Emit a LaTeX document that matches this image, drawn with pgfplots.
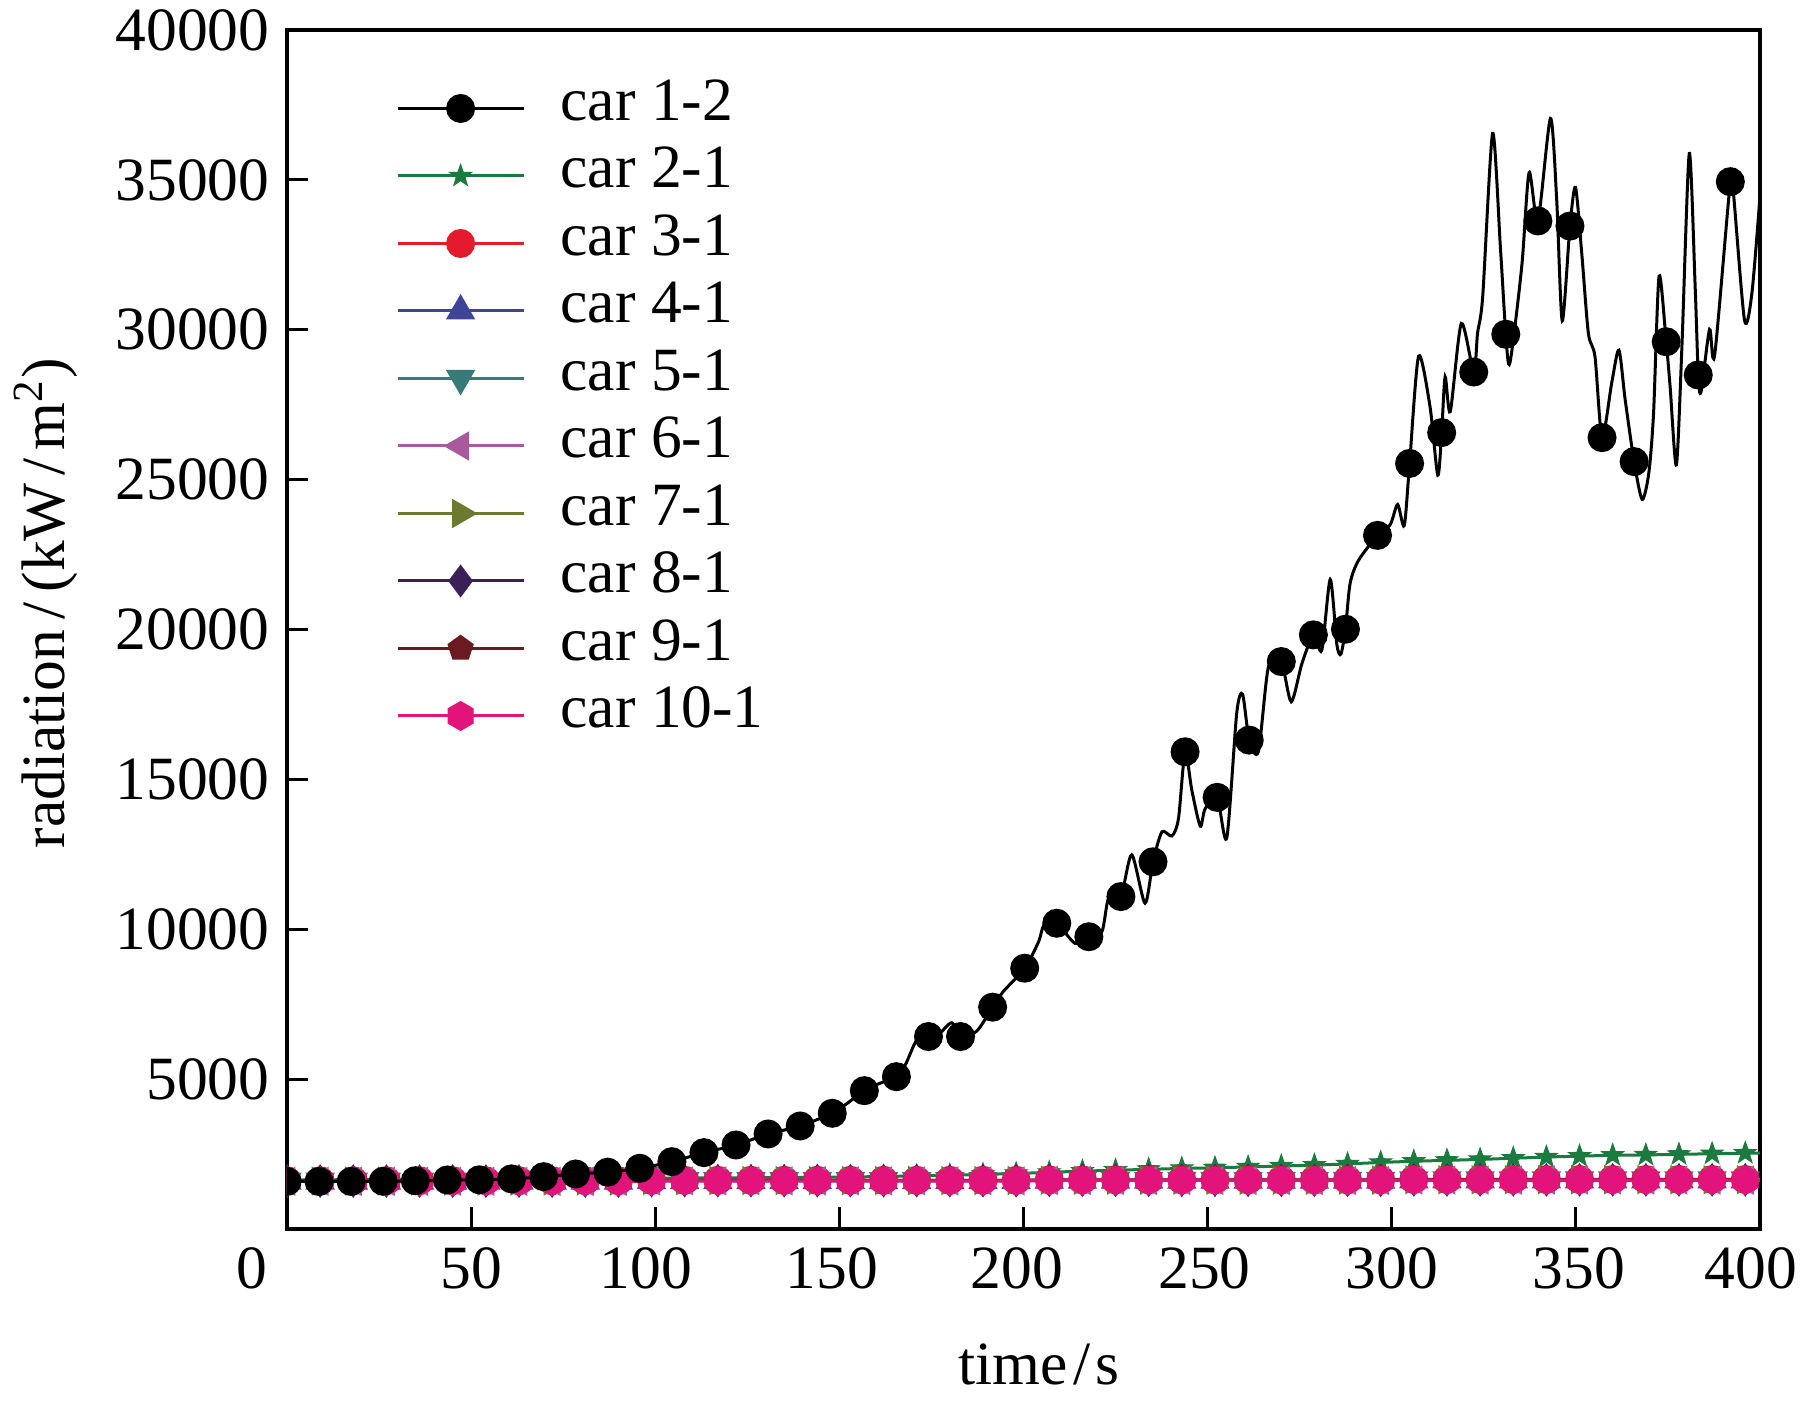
\documentclass[border=0pt]{standalone}
\usepackage{fontspec}
\setmainfont{Liberation Serif}
\usepackage{pgfplots}
\pgfplotsset{compat=1.18}
\usepackage{pgfplotstable}
\definecolor{c2}{HTML}{1B7A3E}
\definecolor{c3}{HTML}{E31B2C}
\definecolor{c4}{HTML}{3F4596}
\definecolor{c5}{HTML}{367A7A}
\definecolor{c6}{HTML}{A95A9E}
\definecolor{c7}{HTML}{6C7A2F}
\definecolor{c8}{HTML}{3A2057}
\definecolor{c9}{HTML}{6A1A20}
\definecolor{c10}{HTML}{E2137A}
\pgfdeclareplotmark{hexa*}{%
  \pgfpathmoveto{\pgfpointpolar{90}{\pgfplotmarksize}}%
  \pgfpathlineto{\pgfpointpolar{150}{\pgfplotmarksize}}%
  \pgfpathlineto{\pgfpointpolar{210}{\pgfplotmarksize}}%
  \pgfpathlineto{\pgfpointpolar{270}{\pgfplotmarksize}}%
  \pgfpathlineto{\pgfpointpolar{330}{\pgfplotmarksize}}%
  \pgfpathlineto{\pgfpointpolar{30}{\pgfplotmarksize}}%
  \pgfpathclose
  \pgfusepathqfillstroke}
\pgfdeclareplotmark{fstar}{%
  \pgfpathmoveto{\pgfpointpolar{90}{\pgfplotmarksize}}%
  \pgfpathlineto{\pgfpointpolar{126}{0.4\pgfplotmarksize}}%
  \pgfpathlineto{\pgfpointpolar{162}{\pgfplotmarksize}}%
  \pgfpathlineto{\pgfpointpolar{198}{0.4\pgfplotmarksize}}%
  \pgfpathlineto{\pgfpointpolar{234}{\pgfplotmarksize}}%
  \pgfpathlineto{\pgfpointpolar{270}{0.4\pgfplotmarksize}}%
  \pgfpathlineto{\pgfpointpolar{306}{\pgfplotmarksize}}%
  \pgfpathlineto{\pgfpointpolar{342}{0.4\pgfplotmarksize}}%
  \pgfpathlineto{\pgfpointpolar{18}{\pgfplotmarksize}}%
  \pgfpathlineto{\pgfpointpolar{54}{0.4\pgfplotmarksize}}%
  \pgfpathclose
  \pgfusepathqfillstroke}
\newcommand{\fs}{\fontsize{12.3pt}{14pt}\selectfont}
\pgfplotstableread{
t   c2   c3   c4   c5   c6   c7   c8   c9   c10
0   1640 1610 1600 1595 1590 1600 1595 1605 1590
9   1640 1610 1600 1595 1590 1600 1595 1605 1590
18  1645 1610 1600 1595 1590 1600 1595 1605 1590
27  1650 1610 1600 1595 1590 1600 1595 1605 1590
36  1650 1610 1600 1595 1590 1600 1595 1605 1590
45  1655 1610 1600 1595 1590 1600 1595 1605 1590
54  1660 1610 1600 1595 1590 1600 1595 1605 1590
63  1665 1610 1600 1595 1590 1600 1595 1605 1590
72  1670 1610 1600 1595 1590 1600 1595 1605 1590
81  1675 1610 1600 1595 1590 1600 1595 1605 1590
90  1680 1610 1600 1595 1590 1600 1595 1605 1590
99  1690 1625 1615 1610 1605 1615 1610 1620 1605
108 1700 1625 1615 1610 1605 1615 1610 1620 1605
117 1705 1625 1615 1610 1605 1615 1610 1620 1605
126 1710 1625 1615 1610 1605 1615 1610 1620 1605
135 1715 1625 1615 1610 1605 1615 1610 1620 1605
144 1725 1625 1615 1610 1605 1615 1610 1620 1605
153 1735 1625 1615 1610 1605 1615 1610 1620 1605
162 1750 1625 1615 1610 1605 1615 1610 1620 1605
171 1770 1625 1615 1610 1605 1615 1610 1620 1605
180 1790 1625 1615 1610 1605 1615 1610 1620 1605
189 1820 1625 1615 1610 1605 1615 1610 1620 1605
198 1850 1625 1615 1610 1605 1615 1610 1620 1605
207 1890 1638 1628 1623 1618 1628 1623 1633 1618
216 1930 1638 1628 1623 1618 1628 1623 1633 1618
225 1960 1638 1628 1623 1618 1628 1623 1633 1618
234 1990 1638 1628 1623 1618 1628 1623 1633 1618
243 2020 1638 1628 1623 1618 1628 1623 1633 1618
252 2040 1638 1628 1623 1618 1628 1623 1633 1618
261 2070 1638 1628 1623 1618 1628 1623 1633 1618
270 2100 1638 1628 1623 1618 1628 1623 1633 1618
279 2130 1638 1628 1623 1618 1628 1623 1633 1618
288 2170 1638 1628 1623 1618 1628 1623 1633 1618
297 2220 1638 1628 1623 1618 1628 1623 1633 1618
306 2260 1652 1642 1637 1632 1642 1637 1647 1632
315 2290 1652 1642 1637 1632 1642 1637 1647 1632
324 2320 1652 1642 1637 1632 1642 1637 1647 1632
333 2360 1652 1642 1637 1632 1642 1637 1647 1632
342 2400 1652 1642 1637 1632 1642 1637 1647 1632
351 2430 1652 1642 1637 1632 1642 1637 1647 1632
360 2460 1652 1642 1637 1632 1642 1637 1647 1632
369 2470 1652 1642 1637 1632 1642 1637 1647 1632
378 2490 1652 1642 1637 1632 1642 1637 1647 1632
387 2510 1652 1642 1637 1632 1642 1637 1647 1632
396 2530 1652 1642 1637 1632 1642 1637 1647 1632
}\data
\begin{document}
\begin{tikzpicture}
\begin{axis}[
  scale only axis, width=294.6pt, height=239.8pt,
  xmin=0, xmax=400, ymin=0, ymax=40000,
  xtick={50,100,...,400}, ytick={5000,10000,...,40000},
  xticklabels={50,\kern-3.8pt100,\kern-3pt150,\kern-2.6pt200,\kern-1.2pt250,300,350\kern-1.2pt,\kern-3.6pt400},
  extra x ticks={0},
  extra x tick labels={0},
  extra x tick style={xticklabel style={xshift=-7pt}},
  scaled y ticks=false,
  tick align=inside, tick pos=left,
  major tick length=4.3pt,
  every tick/.style={black, line width=0.6pt},
  axis line style={line width=0.7pt},
  /pgf/number format/assume math mode=true,
  /pgf/number format/1000 sep={},
  tick label style={font=\fs},
  xticklabel style={yshift=-0.2pt},
  label style={font=\fs},
  xlabel={time\kern1pt/\kern1pt s},
  ylabel={radiation\kern2pt/\kern2pt(kW\kern1.6pt/\kern1.6pt m\textsuperscript{2})},
  xlabel style={at={(axis description cs:0.5105,-0.1126)}, anchor=center},
  ylabel style={at={(axis description cs:-0.1636,0.5221)}, anchor=center},
  clip marker paths=true,
  every axis plot/.append style={line width=0.6pt},
  legend image code/.code={\draw[mark repeat=2,mark phase=2,#1] plot coordinates {(0pt,2.4pt)(12.6pt,2.4pt)(25.2pt,2.4pt)};},
  legend cell align=left,
  legend style={draw=none, fill=none, at={(axis description cs:0.0734,0.9629)}, anchor=north west,
    inner sep=0pt, row sep=1.5pt, column sep=7.1pt,
    cells={anchor=base west},
    nodes={inner sep=0pt, text height=9pt, text depth=3pt, font=\fs}},
]
\addlegendimage{black, line width=0.6pt, mark=*, mark size=2.6pt}
\addlegendentry{car 1-2}
\addplot[c2, mark=fstar, mark size=2.3pt, mark options={solid, line width=0.2pt}] table[x=t, y=c2] {\data};
\addlegendentry{car 2-1}
\addplot[c3, mark=*, mark size=2.6pt] table[x=t, y=c3] {\data};
\addlegendentry{car 3-1}
\addplot[c4, mark=triangle*, mark size=2.8pt] table[x=t, y=c4] {\data};
\addlegendentry{car 4-1}
\addplot[c5, mark=triangle*, mark size=2.8pt, mark options={rotate=180}] table[x=t, y=c5] {\data};
\addlegendentry{car 5-1}
\addplot[c6, mark=triangle*, mark size=2.8pt, mark options={rotate=90}] table[x=t, y=c6] {\data};
\addlegendentry{car 6-1}
\addplot[c7, mark=triangle*, mark size=2.8pt, mark options={rotate=-90}] table[x=t, y=c7] {\data};
\addlegendentry{car 7-1}
\addplot[c8, mark=diamond*, mark size=2.8pt] table[x=t, y=c8] {\data};
\addlegendentry{car 8-1}
\addplot[c9, mark=pentagon*, mark size=2.4pt] table[x=t, y=c9] {\data};
\addlegendentry{car 9-1}
\addplot[c10, mark=hexa*, mark size=2.9pt, mark options={line width=0.2pt}] table[x=t, y=c10] {\data};
\addlegendentry{car 10-1}
\addplot[c2, forget plot] coordinates {(396,2530)(400,2535)};
\addplot[c10, forget plot] coordinates {(396,1632)(400,1632)};
% car 1-2 curve
\addplot[black, smooth, tension=0.45, forget plot] coordinates {
(0,1585)(8.71,1585)(17.42,1585)(26.13,1590)(34.84,1610)(43.55,1635)(52.26,1640)(60.97,1670)
(69.68,1745)(78.39,1835)(87.1,1895)(95.81,2025)(104.52,2245)(113.23,2547)(121.94,2802)
(130.65,3170)(139.36,3436)(148.07,3860)(152,4180)(156.78,4614)(161,4860)(165.49,5081)
(168,5500)(171,6300)(174.2,6420)(177,6500)(180.5,6880)(182.91,6420)(187.3,6600)
(191.62,7400)(194.5,7920)(200.33,8700)(204.1,9580)(205.6,10150)(209.04,10200)
(214,9530)(217.75,9750)(221.3,9920)(223.1,11030)(226.46,11090)(229.4,12480)(233,10870)
(235.17,12250)(237.6,13250)(240.3,13110)(242.1,13700)(243.88,15920)(245.7,14650)
(248,13440)(249.3,14010)(252.59,14400)(255.2,13050)(257.9,17200)(259.5,17840)
(261.3,16310)(263.8,15930)(266.5,18740)(270.01,18930)(272.7,17590)(275.6,18860)
(278.72,19820)(281,19310)(283.3,21670)(285.1,19500)(286.2,19180)(287.43,20010)
(288.7,21540)(291,22310)(296.14,23140)(299.6,23500)(301.6,24170)(303.4,23470)
(304.85,25540)(307.3,29120)(310.4,27430)(312.5,25150)(313.56,26570)(314.5,28430)
(315.9,27270)(318.9,30210)(322.27,28590)(323.3,29880)(324.7,31100)(327.4,36550)
(329.5,32770)(330.98,29850)(332.1,28900)(335.3,32100)(337.3,35240)(339.69,33630)
(343.1,37050)(344.8,34330)(346.3,30300)(348.4,33460)(349.9,34750)(351.6,32550)
(353.4,29880)(355.2,29100)(357.11,26400)(359.8,28270)(361.7,29320)(363.4,27660)
(365.82,25600)(368,24340)(369.8,25210)(371.1,27210)(372.6,31790)(374.53,29600)
(375.6,28100)(377.3,25490)(378.8,29430)(380.8,35880)(382.4,31430)(383.24,28490)
(384,27930)(386.3,30010)(387.7,29160)(391.95,34940)(392.8,34550)(395.8,30320)
(397.8,31210)(400,34440)
};
\addplot[black, only marks, mark=*, mark size=2.6pt, forget plot] coordinates {
(0,1585)(8.71,1585)(17.42,1585)(26.13,1590)(34.84,1610)(43.55,1635)(52.26,1640)(60.97,1670)
(69.68,1745)(78.39,1835)(87.1,1895)(95.81,2025)(104.52,2245)(113.23,2547)(121.94,2802)
(130.65,3170)(139.36,3436)(148.07,3860)(156.78,4614)(165.49,5081)(174.2,6420)(182.91,6420)
(191.62,7400)(200.33,8700)(209.04,10200)(217.75,9750)(226.46,11090)(235.17,12250)
(243.88,15920)(252.59,14400)(261.3,16310)(270.01,18930)(278.72,19820)(287.43,20010)
(296.14,23140)(304.85,25540)(313.56,26570)(322.27,28590)(330.98,29850)(339.69,33630)
(348.4,33460)(357.11,26400)(365.82,25600)(374.53,29600)(383.24,28490)(391.95,34940)
};
\end{axis}
\pgfresetboundingbox
\path[use as bounding box] (-57.4pt,-35pt) rectangle (302.6pt,245.8pt);
\end{tikzpicture}
\end{document}
